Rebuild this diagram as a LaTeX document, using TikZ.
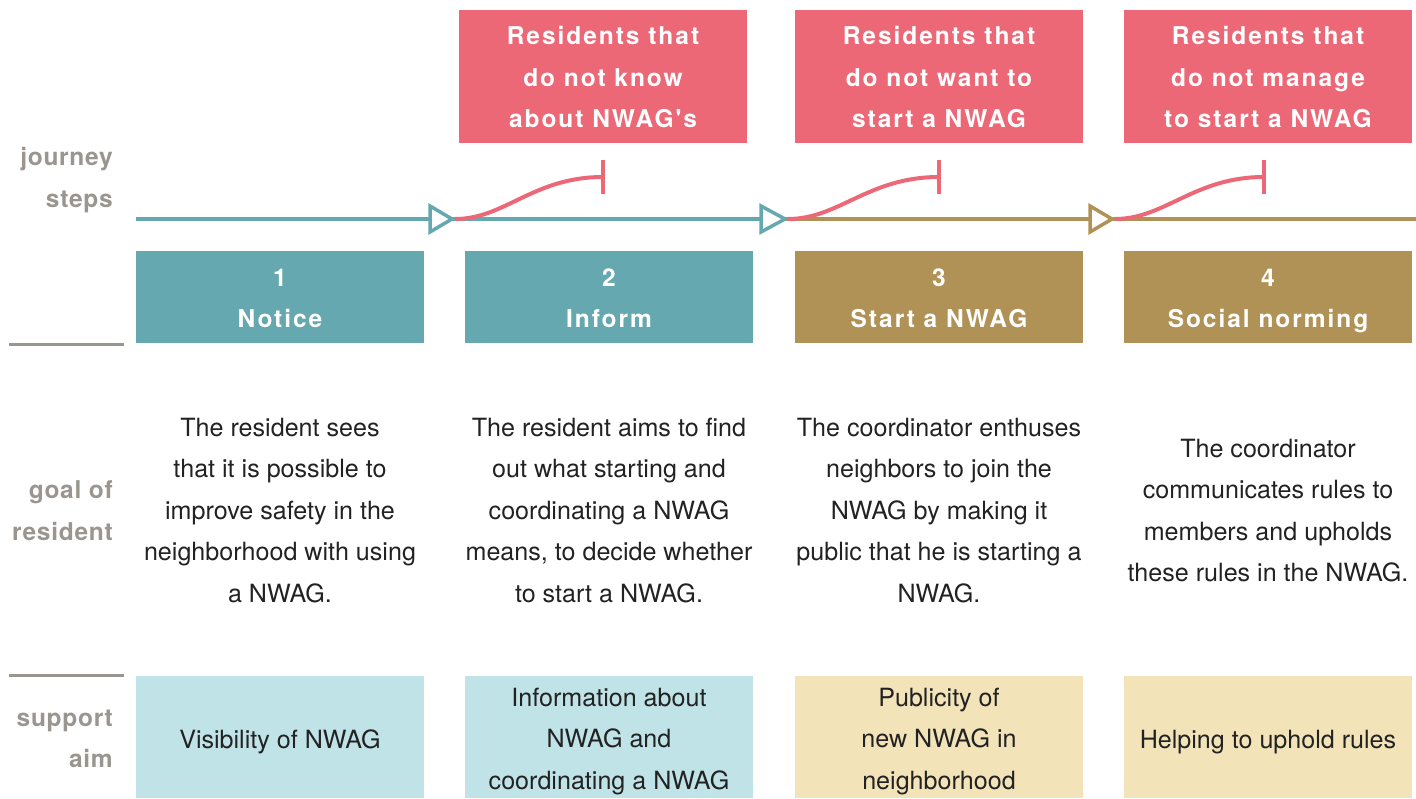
\documentclass[tikz,border=0pt]{standalone}
\usepackage{fontspec}
\setmainfont{TeX Gyre Heros}
\newfontfamily\trackfont[LetterSpace=8]{TeX Gyre Heros}
\newfontfamily\sidefont[LetterSpace=3]{TeX Gyre Heros}
\definecolor{cred}{HTML}{EC6877}
\definecolor{cteal}{HTML}{66A8B0}
\definecolor{cgold}{HTML}{B09256}
\definecolor{clblue}{HTML}{C0E3E8}
\definecolor{cbeige}{HTML}{F3E3B9}
\definecolor{cgray}{HTML}{9A958E}
\definecolor{cdark}{HTML}{222222}
\tikzset{
  struts/.style={execute at begin node=\strut, execute at end node=\strut},
  bfont/.style={font=\trackfont\bfseries\fontsize{24.5}{41.5}\selectfont, struts},
  sfont/.style={font=\sidefont\bfseries\fontsize{24.5}{41.5}\selectfont, struts},
  rfont/.style={font=\fontsize{25.1}{41.5}\selectfont, struts},
  redbox/.style={fill=cred, minimum width=288pt, minimum height=133pt, inner sep=0pt},
  stepbox/.style={minimum width=288pt, minimum height=92pt, inner sep=0pt},
  supbox/.style={minimum width=288pt, minimum height=122pt, inner sep=0pt},
  boldtext/.style={bfont, text=white, align=center, inner sep=0pt},
  goaltext/.style={text=cdark, rfont, align=center, inner sep=0pt},
  sidelabel/.style={text=cgray, sfont, align=right, anchor=east, inner sep=0pt},
  sepline/.style={draw=cgray, line width=2.5pt},
  tl/.style={line width=4.5pt},
  tri/.style={line width=3.5pt, fill=white, line join=miter},
  redline/.style={draw=cred, line width=4pt}
}
\begin{document}
\begin{tikzpicture}[x=1pt,y=-1pt]
\useasboundingbox (0,0) rectangle (1416,798);
% side labels
\node[sidelabel] (ljs) at (113,183.5) {journey\\steps};
\node[sidelabel] (lgr) at (113,517) {goal of\\resident};
\node[sidelabel] (lsa) at (113,745) {support\\aim};
\draw[sepline] (9,344.5) -- (124,344.5);
\draw[sepline] (9,675.5) -- (124,675.5);
% timeline
\coordinate (s) at (136,219);
\coordinate (t1) at (452,219);
\coordinate (t2) at (785,219);
\coordinate (t3) at (1112,219);
\coordinate (e) at (1416,219);
\draw[tl, draw=cteal] (s) -- (t2);
\draw[tl, draw=cgold] (t2) -- (e);
\draw[tri, draw=cteal] (t1) -- ++(-22,-13) -- ++(0,26) -- cycle;
\draw[tri, draw=cteal] (t2) -- ++(-24,-13) -- ++(0,26) -- cycle;
\draw[tri, draw=cgold] (t3) -- ++(-22,-13) -- ++(0,26) -- cycle;
% red branches
\coordinate (c1) at (455,219);
\coordinate (c2) at (788,219);
\coordinate (c3) at (1115,219);
\coordinate (b1) at (603,177);
\coordinate (b2) at (939,177);
\coordinate (b3) at (1264,177);
\draw[redline] (c1) .. controls +(50,0) and +(-70,0) .. (b1);
\draw[redline] (c2) .. controls +(51,0) and +(-71,0) .. (b2);
\draw[redline] (c3) .. controls +(50,0) and +(-70,0) .. (b3);
\draw[redline] (b1) ++(0,-17) -- ++(0,34);
\draw[redline] (b2) ++(0,-17) -- ++(0,34);
\draw[redline] (b3) ++(0,-17) -- ++(0,34);
% red boxes
\node[redbox] (r1) at (603,76.5) {};
\node[redbox] (r2) at (939,76.5) {};
\node[redbox] (r3) at (1268,76.5) {};
\node[boldtext] (r1t) at (603,83.5) {Residents that\\do not know\\about NWAG's};
\node[boldtext] (r2t) at (939,83.5) {Residents that\\do not want to\\start a NWAG};
\node[boldtext] (r3t) at (1268,83.5) {Residents that\\do not manage\\to start a NWAG};
% step boxes
\node[stepbox, fill=cteal] (s1) at (280,297) {};
\node[stepbox, fill=cteal] (s2) at (609,297) {};
\node[stepbox, fill=cgold] (s3) at (939,297) {};
\node[stepbox, fill=cgold] (s4) at (1268,297) {};
\node[boldtext] (s1t) at (280,304.5) {1\\Notice};
\node[boldtext] (s2t) at (609,304.5) {2\\Inform};
\node[boldtext] (s3t) at (939,304.5) {3\\Start a NWAG};
\node[boldtext] (s4t) at (1268,304.5) {4\\Social norming};
% goals
\node[goaltext] (g1) at (280,516.5) {The resident sees\\that it is possible to\\improve safety in the\\neighborhood with using\\a NWAG.};
\node[goaltext] (g2) at (609,516.5) {The resident aims to find\\out what starting and\\coordinating a NWAG\\means, to decide whether\\to start a NWAG.};
\node[goaltext] (g3) at (939,516.5) {The coordinator enthuses\\neighbors to join the\\NWAG by making it\\public that he is starting a\\NWAG.};
\node[goaltext] (g4) at (1268,516.5) {The coordinator\\communicates rules to\\members and upholds\\these rules in the NWAG.};
% support boxes
\node[supbox, fill=clblue] (a1) at (280,737) {};
\node[supbox, fill=clblue] (a2) at (609,737) {};
\node[supbox, fill=cbeige] (a3) at (939,737) {};
\node[supbox, fill=cbeige] (a4) at (1268,737) {};
\node[goaltext] (a1t) at (280,740) {Visibility of NWAG};
\node[goaltext] (a2t) at (609,745) {Information about\\NWAG and\\coordinating a NWAG};
\node[goaltext] (a3t) at (939,745) {Publicity of\\new NWAG in\\neighborhood};
\node[goaltext] (a4t) at (1268,740) {Helping to uphold rules};
\end{tikzpicture}
\end{document}
